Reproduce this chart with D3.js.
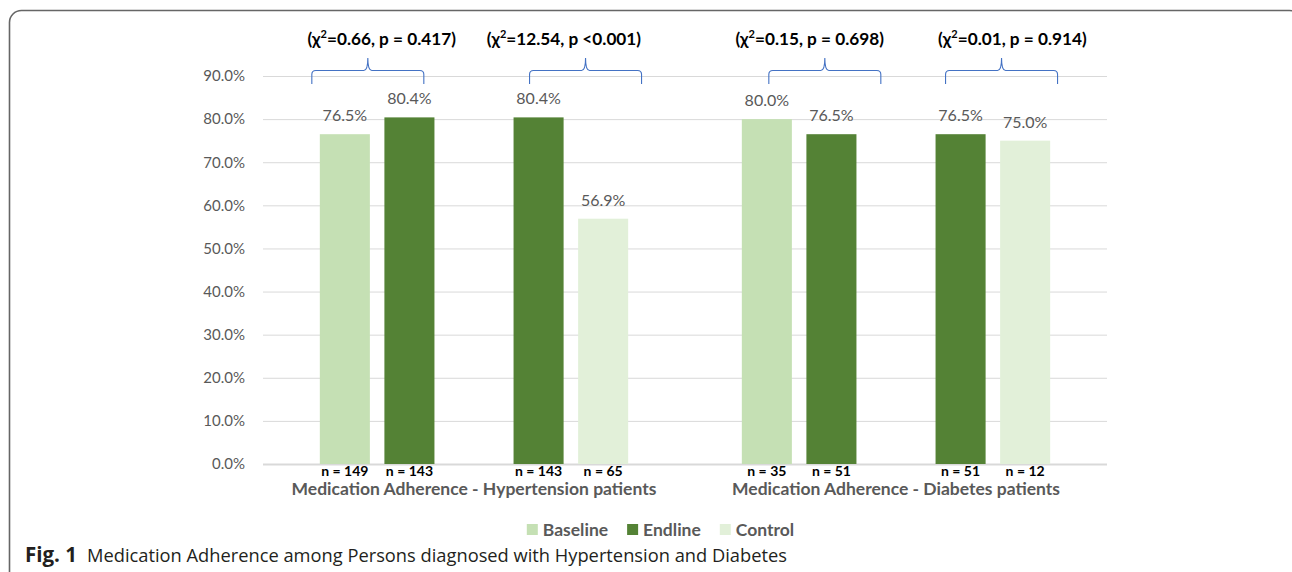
<!DOCTYPE html>
<html>
<head>
<meta charset="utf-8">
<script src="https://cdn.jsdelivr.net/npm/d3@7"></script>
<style>
  html, body { margin: 0; padding: 0; background: #fff; }
  svg { display: block; }
</style>
</head>
<body>
<svg id="chart" width="1292" height="572"></svg>
<script>
// Patient groups along the x axis
const groups = [
  "Medication Adherence - Hypertension patients",
  "Medication Adherence - Diabetes patients"
];
// Bar slots inside each group (the middle slot stays empty)
const slots = ["s0", "s1", "gap", "s2", "s3"];
const barSlots = ["s0", "s1", "s2", "s3"];

// Series of each bar, per group
const hypertensionSeries = ["Baseline", "Endline", "Endline", "Control"];
const diabetesSeries = ["Baseline", "Endline", "Endline", "Control"];
// Percent adherent
const hypertensionValues = [76.5, 80.4, 80.4, 56.9];
const diabetesValues = [80.0, 76.5, 76.5, 75.0];
// Sample sizes
const hypertensionN = [149, 143, 143, 65];
const diabetesN = [35, 51, 51, 12];

// Chi-square tests, one per pair of bars
const testChi = ["0.66", "12.54", "0.15", "0.01"];
const testP = ["= 0.417", "<0.001", "= 0.698", "= 0.914"];

const legendSeries = ["Baseline", "Endline", "Control"];
const yTicks = [0, 10, 20, 30, 40, 50, 60, 70, 80, 90];

const colors = { Baseline: "#C5E0B4", Endline: "#548235", Control: "#E2F0D9" };

const rows = [];
[[hypertensionSeries, hypertensionValues, hypertensionN],
 [diabetesSeries, diabetesValues, diabetesN]].forEach(([ser, vals, ns], gi) => {
  vals.forEach((v, i) => rows.push({ group: groups[gi], slot: barSlots[i], series: ser[i], value: v, n: ns[i] }));
});

const svg = d3.select("#chart");
const font = "Lato, 'Open Sans', sans-serif";

// Panel frame
svg.append("rect")
  .attr("x", 9.5).attr("y", 10.5).attr("width", 1292).attr("height", 574)
  .attr("rx", 12).attr("fill", "none").attr("stroke", "#666").attr("stroke-width", 1.6);

const plotLeft = 263, plotRight = 1107, plotTop = 76, plotBottom = 464;

const x0 = d3.scaleBand().domain(groups).range([plotLeft, plotRight]).padding(0);
const x1 = d3.scaleBand().domain(slots).range([0, x0.bandwidth()])
  .paddingInner(0.225).paddingOuter(0.88);
const y = d3.scaleLinear().domain([0, 90]).range([plotBottom, plotTop]);

// Gridlines and value axis
const yAxis = d3.axisLeft(y).tickValues(yTicks).tickSize(-(plotRight - plotLeft))
  .tickFormat(d => d3.format(".1f")(d) + "%").tickPadding(18);
const gy = svg.append("g").attr("transform", `translate(${plotLeft},0)`).call(yAxis);
gy.select(".domain").remove();
gy.selectAll(".tick line").attr("stroke", "#d9d9d9").attr("stroke-width", 1)
  .filter(d => d === 0).attr("stroke-width", 2);
gy.selectAll(".tick text").attr("fill", "#595959").attr("font-family", font)
  .attr("font-size", 15).attr("dy", "0.32em");

// Bars
const bx = d => x0(d.group) + x1(d.slot);
svg.append("g").selectAll("rect").data(rows).join("rect")
  .attr("x", bx).attr("width", x1.bandwidth())
  .attr("y", d => y(d.value)).attr("height", d => y(0) - y(d.value))
  .attr("fill", d => colors[d.series]);

// Value labels
svg.append("g").selectAll("text").data(rows).join("text")
  .attr("x", d => bx(d) + x1.bandwidth() / 2).attr("y", d => y(d.value) - 13)
  .attr("text-anchor", "middle").attr("fill", "#595959")
  .attr("font-family", font).attr("font-size", 16)
  .text(d => d3.format(".1f")(d.value) + "%");

// Sample sizes under bars
svg.append("g").selectAll("text").data(rows).join("text")
  .attr("x", d => bx(d) + x1.bandwidth() / 2).attr("y", plotBottom + 12)
  .attr("text-anchor", "middle").attr("fill", "#000").attr("font-weight", 700)
  .attr("font-family", font).attr("font-size", 14)
  .text(d => "n = " + d.n);

// Group labels
svg.append("g").selectAll("text").data(groups).join("text")
  .attr("x", d => x0(d) + x0.bandwidth() / 2).attr("y", plotBottom + 31)
  .attr("text-anchor", "middle").attr("fill", "#595959").attr("font-weight", 700)
  .attr("font-family", font).attr("font-size", 17.5)
  .text(d => d);

// Brackets and test results over each pair of bars
const pairs = [0, 1, 2, 3].map(i => {
  const a = rows[i * 2], b = rows[i * 2 + 1];
  return { left: bx(a), right: bx(b) + x1.bandwidth(), chi: testChi[i], p: testP[i] };
});
const braceShift = [-8, 16, 27, 10];
const labelShift = [4.5, -7, 10.5, 19.5];
const braceW = 112, braceTip = 57, braceBar = 70.5, braceEnd = 84;

pairs.forEach((p, i) => {
  const l = p.left + braceShift[i], r = l + braceW, c = (l + r) / 2;
  const path = d3.path();
  path.moveTo(l, braceEnd);
  path.lineTo(l, braceBar + 4);
  path.quadraticCurveTo(l, braceBar, l + 4, braceBar);
  path.lineTo(c - 4, braceBar);
  path.quadraticCurveTo(c, braceBar, c, braceTip + 1);
  path.moveTo(c, braceTip + 1);
  path.quadraticCurveTo(c, braceBar, c + 4, braceBar);
  path.lineTo(r - 4, braceBar);
  path.quadraticCurveTo(r, braceBar, r, braceBar + 4);
  path.lineTo(r, braceEnd);
  svg.append("path").attr("d", path.toString()).attr("fill", "none")
    .attr("stroke", "#4472C4").attr("stroke-width", 1.1);

  const cx = (p.left + p.right) / 2 + labelShift[i];
  const t = svg.append("text").attr("x", cx).attr("y", 45)
    .attr("text-anchor", "middle").attr("fill", "#000").attr("font-weight", 700)
    .attr("font-family", font).attr("font-size", 17.2);
  t.append("tspan").text("(χ");
  t.append("tspan").attr("font-size", 11).attr("dy", -7).text("2");
  t.append("tspan").attr("dy", 7).text(`=${p.chi}, p ${p.p})`);
});

// Legend
const legend = svg.append("g").attr("font-family", font).attr("font-weight", 700)
  .attr("font-size", 17.5).attr("fill", "#595959");
const items = legend.selectAll("g").data(legendSeries).join("g");
items.append("rect").attr("width", 11).attr("height", 11).attr("y", -12)
  .attr("fill", d => colors[d]);
items.append("text").attr("x", 16).attr("y", 0).text(d => d);
const widths = items.nodes().map(n => n.getBBox().width);
const gapLegend = 19;
const total = d3.sum(widths) + gapLegend * (widths.length - 1);
let lx = (plotLeft + plotRight) / 2 - total / 2 - 24.5;
items.each(function (d, i) {
  d3.select(this).attr("transform", `translate(${lx},536)`);
  lx += widths[i] + gapLegend;
});

// Figure caption
const cap = svg.append("text").attr("y", 562)
  .attr("font-family", "'Open Sans', 'Noto Sans', sans-serif").attr("fill", "#231F20");
cap.append("tspan").attr("x", 25).attr("font-weight", 700).attr("font-size", 20.5).text("Fig. 1");
cap.append("tspan").attr("x", 87).attr("font-size", 18.3)
  .text("Medication Adherence among Persons diagnosed with Hypertension and Diabetes");
</script>
</body>
</html>
